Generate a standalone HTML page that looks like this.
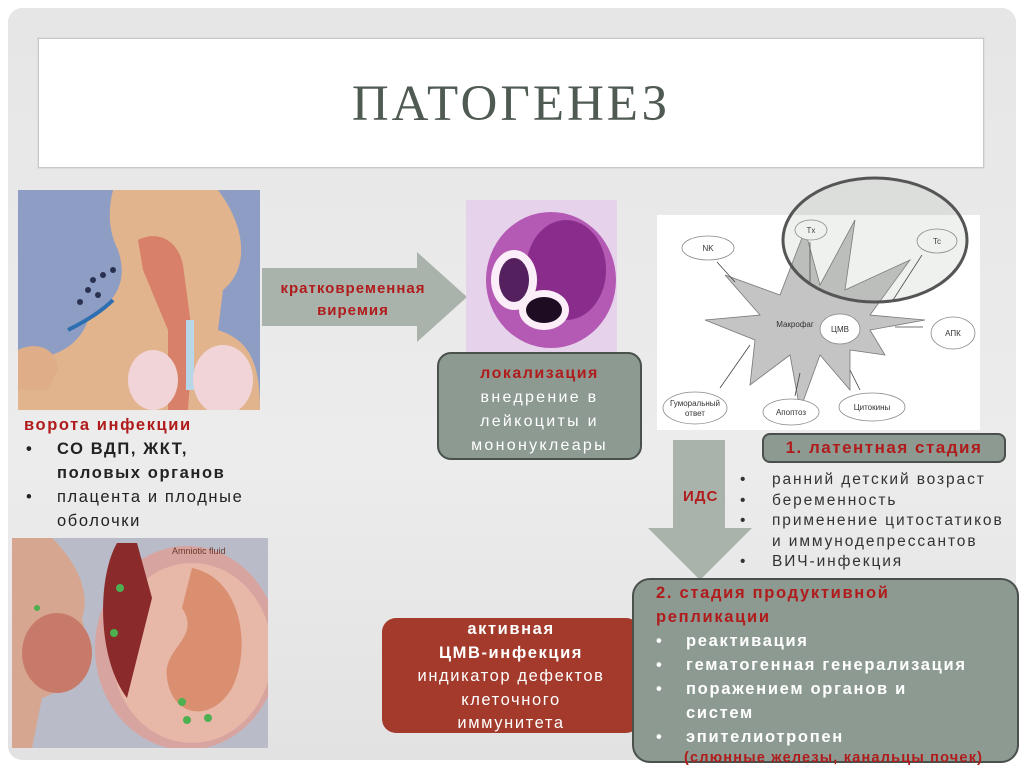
<!DOCTYPE html>
<html><head><meta charset="utf-8"><style>
*{margin:0;padding:0;box-sizing:border-box}
body{width:1024px;height:767px;overflow:hidden;background:#fff;font-family:"Liberation Sans","DejaVu Sans",sans-serif;position:relative}
.a{position:absolute}
.frame{left:8px;top:8px;width:1008px;height:752px;border-radius:14px;background:linear-gradient(#e6e6e6,#ececec 60%,#e2e2e2)}
.title{left:38px;top:38px;width:946px;height:130px;background:#fff;border:1px solid #c8c8c8;box-shadow:0 0 0 1px #ddd}
.title span{position:absolute;left:0;right:0;top:36px;text-align:center;font-family:"Liberation Serif",serif;font-size:51px;color:#4e5a52;letter-spacing:3px}
.red{color:#b01c1c}
.box{border:2px solid #4a504c;border-radius:14px;background:#8c9a92;color:#fff}
</style></head><body>
<div class="a frame"></div>
<div class="a title"><span>ПАТОГЕНЕЗ</span></div>

<svg class="a" style="left:18px;top:190px" width="242" height="220">
<rect width="242" height="220" fill="#8d9dc4"/>
<path d="M95 0 H200 C230 40 230 80 205 100 L200 140 C230 150 242 170 242 220 H0 V170 C30 170 60 160 70 130 C100 110 110 90 100 60 C90 40 90 20 95 0Z" fill="#e2b48e"/>
<path d="M120 50 C140 40 160 50 165 75 L175 150 L170 220 H150 L150 140 L125 80Z" fill="#d8806a"/>
<rect x="168" y="130" width="8" height="70" fill="#b7d7e8"/>
<ellipse cx="205" cy="190" rx="30" ry="35" fill="#f0d4d8"/>
<ellipse cx="135" cy="190" rx="25" ry="30" fill="#f0d4d8"/>
<path d="M0 160 C20 150 40 160 40 180 L30 200 L0 200Z" fill="#dfae88"/>
<g fill="#2a3050"><circle cx="75" cy="90" r="3"/><circle cx="85" cy="85" r="3"/><circle cx="70" cy="100" r="3"/><circle cx="80" cy="105" r="3"/><circle cx="95" cy="80" r="3"/><circle cx="62" cy="112" r="3"/></g>
<path d="M50 140 C70 130 85 120 95 110" stroke="#2d6fb0" stroke-width="4" fill="none"/>
</svg>

<svg class="a" style="left:262px;top:252px" width="205" height="90"><path d="M0 16 H155 V0 L205 45 L155 90 V74 H0Z" fill="#a9b3ab"/></svg>
<div class="a red" style="left:258px;top:278px;width:190px;text-align:center;font-size:15px;letter-spacing:1px;font-weight:bold;line-height:22px">кратковременная<br>виремия</div>

<svg class="a" style="left:466px;top:200px" width="151" height="152">
<rect width="151" height="152" fill="#e6d2ea"/>
<ellipse cx="85" cy="80" rx="65" ry="68" fill="#b459b4"/>
<ellipse cx="100" cy="70" rx="40" ry="50" fill="#8a2c8c"/>
<ellipse cx="48" cy="80" rx="23" ry="30" fill="#fbeef8"/>
<ellipse cx="48" cy="80" rx="15" ry="22" fill="#55205e"/>
<ellipse cx="78" cy="110" rx="25" ry="20" fill="#fbeef8"/>
<ellipse cx="78" cy="110" rx="18" ry="13" fill="#1e0c22"/>
</svg>

<div class="a box" style="left:437px;top:352px;width:205px;height:108px;text-align:center;font-size:16px;letter-spacing:2.3px;line-height:24px;padding-top:8px">
<b class="red" style="font-size:16px;letter-spacing:1.5px">локализация</b><br>внедрение в<br>лейкоциты и<br>мононуклеары</div>

<svg class="a" style="left:640px;top:170px" width="384" height="300" font-family="Liberation Sans" font-size="8">
<rect x="17" y="45" width="323" height="215" fill="#fff"/>
<polygon points="85,105 140,125 165,60 180,115 215,50 205,120 270,90 230,145 285,150 230,160 245,185 210,180 210,220 180,185 160,240 150,185 110,215 115,170 65,150 120,145" fill="#c4c4c4" stroke="#777" stroke-width="0.8"/>
<g stroke="#444" stroke-width="0.8" fill="none">
<line x1="95" y1="112" x2="77" y2="92"/><line x1="170" y1="115" x2="170" y2="72"/><line x1="253" y1="130" x2="282" y2="85"/>
<line x1="255" y1="157" x2="283" y2="157"/><line x1="110" y1="175" x2="80" y2="218"/><line x1="160" y1="203" x2="155" y2="226"/><line x1="210" y1="200" x2="220" y2="220"/></g>
<g fill="#fff" stroke="#888" stroke-width="0.8">
<ellipse cx="68" cy="78" rx="26" ry="12"/><ellipse cx="171" cy="60" rx="16" ry="10"/><ellipse cx="297" cy="71" rx="20" ry="12"/>
<ellipse cx="200" cy="159" rx="20" ry="15"/><ellipse cx="313" cy="163" rx="22" ry="16"/>
<ellipse cx="55" cy="238" rx="32" ry="16"/><ellipse cx="151" cy="242" rx="28" ry="13"/><ellipse cx="232" cy="237" rx="33" ry="14"/></g>
<g fill="#333" text-anchor="middle"><text x="68" y="81">NK</text><text x="171" y="63">Tx</text><text x="297" y="74">Tc</text><text x="155" y="157">Макрофаг</text><text x="200" y="162">ЦМВ</text><text x="313" y="166">АПК</text><text x="55" y="236">Гуморальный</text><text x="55" y="246">ответ</text><text x="151" y="245">Апоптоз</text><text x="232" y="240">Цитокины</text></g>
<ellipse cx="235" cy="70" rx="92" ry="62" fill="rgba(150,160,150,0.15)" stroke="#555" stroke-width="3"/>
</svg>

<div class="a" style="left:762px;top:433px;width:244px;height:30px;background:#8c9a92;border:2px solid #4a504c;border-radius:8px;text-align:center;font-size:17px;letter-spacing:1.5px;font-weight:bold;line-height:26px"><span class="red">1. латентная стадия</span></div>

<svg class="a" style="left:648px;top:440px" width="104" height="140"><path d="M25 0 H77 V88 H104 L52 140 L0 88 H25Z" fill="#a9b3ab"/></svg>
<div class="a red" style="left:683px;top:488px;font-size:15px;letter-spacing:1px;font-weight:bold">ИДС</div>

<div class="a" style="left:740px;top:470px;font-size:15.5px;letter-spacing:1.9px;line-height:20.5px;color:#333;white-space:nowrap">
<div>•<span style="position:absolute;left:32px">ранний детский возраст</span></div>
<div>•<span style="position:absolute;left:32px">беременность</span></div>
<div>•<span style="position:absolute;left:32px">применение цитостатиков</span></div>
<div style="padding-left:32px">и иммунодепрессантов</div>
<div>•<span style="position:absolute;left:32px">ВИЧ-инфекция</span></div></div>

<div class="a" style="left:26px;top:413px;font-size:16.5px;letter-spacing:1.6px;line-height:24px;color:#222;white-space:nowrap">
<div class="red" style="font-weight:bold;margin-left:-2px">ворота инфекции</div>
<div style="font-weight:bold">•<span style="position:absolute;left:31px">СО ВДП, ЖКТ,</span></div>
<div style="font-weight:bold;padding-left:31px">половых органов</div>
<div>•<span style="position:absolute;left:31px">плацента и плодные</span></div>
<div style="padding-left:31px">оболочки</div></div>

<svg class="a" style="left:12px;top:538px" width="256" height="210">
<rect width="256" height="210" fill="#b9bcc8"/>
<path d="M0 0 H40 C60 20 80 50 70 80 C80 120 60 150 30 160 L20 210 H0Z" fill="#d6a690"/>
<ellipse cx="45" cy="115" rx="35" ry="40" fill="#c87a6a"/>
<ellipse cx="175" cy="110" rx="92" ry="102" fill="#d8a4a0"/>
<ellipse cx="180" cy="115" rx="80" ry="90" fill="#e7b7a8"/>
<path d="M105 5 C85 40 85 120 115 160 L140 60 L125 5Z" fill="#8a2a2a"/>
<path d="M180 30 C230 40 240 110 220 150 C200 185 160 180 155 140 C150 110 190 100 170 70Z" fill="#d98f70"/>
<g fill="#4cb050"><circle cx="170" cy="164" r="4"/><circle cx="175" cy="182" r="4"/><circle cx="196" cy="180" r="4"/><circle cx="108" cy="50" r="4"/><circle cx="102" cy="95" r="4"/><circle cx="25" cy="70" r="3"/></g>
<text x="160" y="16" font-size="9" fill="#6a3a2a" font-family="Liberation Sans">Amniotic fluid</text>
</svg>

<div class="a" style="left:382px;top:618px;width:258px;height:115px;background:#a33a2c;border-radius:14px;color:#fff;text-align:center;font-size:16.5px;letter-spacing:1.6px;line-height:23.5px;padding-top:0px;white-space:nowrap">
<b>активная<br>ЦМВ-инфекция</b><br>индикатор дефектов<br>клеточного<br>иммунитета</div>

<div class="a box" style="left:632px;top:578px;width:387px;height:185px;padding:1px 0 0 22px;font-size:16.5px;letter-spacing:1.7px;line-height:24px;font-weight:bold;border-radius:18px;white-space:nowrap">
<div class="red">2. стадия продуктивной</div>
<div class="red">репликации</div>
<div>•<span style="position:absolute;left:52px">реактивация</span></div>
<div>•<span style="position:absolute;left:52px">гематогенная генерализация</span></div>
<div>•<span style="position:absolute;left:52px">поражением органов и</span></div>
<div style="padding-left:30px">систем</div>
<div>•<span style="position:absolute;left:52px">эпителиотропен</span></div>
<div class="red" style="padding-left:28px;font-size:14.5px;letter-spacing:1.2px;line-height:18px">(слюнные железы, канальцы почек)</div>
</div>
</body></html>
